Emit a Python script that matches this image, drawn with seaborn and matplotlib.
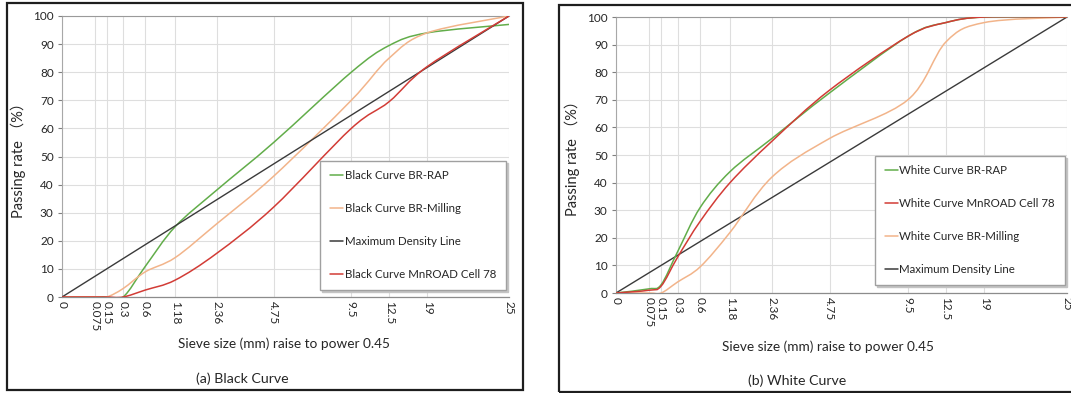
import numpy as np
import matplotlib
matplotlib.use("Agg")
import matplotlib.pyplot as plt
from matplotlib.path import Path
from matplotlib.patches import PathPatch, Rectangle
from matplotlib.lines import Line2D
import seaborn as sns

# Sieve labels and their abscissa (sieve size raised to power 0.45)
sieve_labels = ["0", "0.075", "0.15", "0.3", "0.6", "1.18", "2.36",
                "4.75", "9.5", "12.5", "19", "25"]
sieve_pow = [0, 0.311, 0.426, 0.582, 0.795, 1.077, 1.472,
             2.016, 2.755, 3.115, 3.478, 4.257]

# Passing rate (%) at each sieve - black curves
black_br_rap = [0, 0, 0, 0, 11, 25, 38, 55, 80, 89.5, 94, 97]
black_br_milling = [0, 0, 0, 3, 9, 14, 26, 43, 70, 85, 94, 100]
black_mnroad = [0, 0, 0, 0, 2.5, 6, 15.5, 32, 60, 69.5, 82, 100]

# Passing rate (%) at each sieve - white curves
white_br_rap = [0, 1.5, 3, 15, 31, 44, 56, 72.5, 93, 98, 100, 100]
white_mnroad = [0, 1, 2.5, 13, 26, 40, 55, 73.5, 93, 98, 100, 100]
white_br_milling = [0, 0, 0, 4, 9.5, 22, 42, 56, 70, 91, 98, 100]

# Maximum density line end points
mdl_x = [sieve_pow[0], sieve_pow[-1]]
mdl_pass = [0, 100]

GREEN = "#62ad4a"
ORANGE = "#f2b48a"
RED = "#d23c36"
DARK = "#3a3a3a"

sns.set_theme(style="white")
plt.rcParams["font.family"] = ["Lato", "Noto Sans CJK SC", "DejaVu Sans"]
plt.rcParams["axes.unicode_minus"] = False


def smooth_curve(ax, x, y, color, lw=1.1):
    """Smoothed gradation line (cubic Bezier segments through the sieve points)."""
    p = np.column_stack([np.asarray(x, dtype=float), np.asarray(y, dtype=float)])
    pe = np.vstack([p[0], p, p[-1]])
    verts = [p[0]]
    codes = [Path.MOVETO]
    for i in range(len(p) - 1):
        p0, p1, p2, p3 = pe[i], pe[i + 1], pe[i + 2], pe[i + 3]
        c1 = p1 + (p2 - p0) / 6.0
        c2 = p2 - (p3 - p1) / 6.0
        verts += [c1, c2, p2]
        codes += [Path.CURVE4] * 3
    ax.add_patch(PathPatch(Path(np.array(verts), codes), fill=False,
                           edgecolor=color, lw=lw, transform=ax.transData,
                           zorder=3, capstyle="round", joinstyle="round"))


def style_axes(ax, xlabel_pos):
    ax.set_xlim(sieve_pow[0], sieve_pow[-1])
    ax.set_ylim(0, 100)
    ax.set_xticks(sieve_pow)
    ax.set_xticklabels(sieve_labels, rotation=-90, fontsize=8.5)
    ax.set_yticks(range(0, 101, 10))
    ax.tick_params(axis="y", labelsize=8.5, length=3, width=0.8,
                   color="#808080", pad=3, left=True)
    ax.tick_params(axis="x", length=0, pad=3)
    ax.grid(True, color="#dedede", lw=0.8)
    ax.set_axisbelow(True)
    ax.spines["right"].set_visible(False)
    ax.spines["top"].set_color("#9a9a9a")
    ax.spines["top"].set_linewidth(0.8)
    ax.spines["left"].set_color("#a8a8a8")
    ax.spines["left"].set_linewidth(0.8)
    ax.spines["bottom"].set_color("#8c8c8c")
    ax.spines["bottom"].set_linewidth(0.9)
    ax.set_xlabel("Sieve size (mm) raise to power 0.45", fontsize=9.8)
    ax.xaxis.set_label_coords(*xlabel_pos)
    ax.set_ylabel("Passing rate （%）", fontsize=10.5, labelpad=5)


def add_legend(ax, entries, anchor):
    handles = [Line2D([], [], color=c, lw=1.1) for _, c in entries]
    labels = [n for n, _ in entries]
    leg = ax.legend(handles, labels, loc="lower right", bbox_to_anchor=anchor,
                    borderaxespad=0, fontsize=8.3, frameon=True, fancybox=False,
                    framealpha=1, edgecolor="#a0a0a0", labelspacing=1.9,
                    handlelength=1.15, handletextpad=0.12, borderpad=0.85,
                    shadow={"color": "#c4c4c4", "alpha": 1, "ox": 1.6, "oy": -1.6})
    leg.get_frame().set_linewidth(1.0)
    leg.set_zorder(5)


W, H = 1071, 393
fig = plt.figure(figsize=(W / 100, H / 100), dpi=100)

# Panel frames
fig.add_artist(Rectangle((7 / W, 1 - 390 / H), 516 / W, 387 / H, fill=False,
                         edgecolor="#1e1e1e", lw=1.6, transform=fig.transFigure))
fig.add_artist(Rectangle((559 / W, 1 - 392 / H), 530 / W, 387 / H, fill=False,
                         edgecolor="#1e1e1e", lw=1.6, transform=fig.transFigure))

ax1 = fig.add_axes([62 / W, 1 - 297 / H, 447 / W, 281 / H])
ax2 = fig.add_axes([616 / W, 1 - 293 / H, 451 / W, 276 / H])

style_axes(ax1, (0.497, -0.145))
style_axes(ax2, (0.471, -0.172))

# (a) Black curve
smooth_curve(ax1, sieve_pow, black_br_rap, GREEN)
smooth_curve(ax1, sieve_pow, black_br_milling, ORANGE)
sns.lineplot(x=mdl_x, y=mdl_pass, ax=ax1, color=DARK, lw=1.0, estimator=None, zorder=3)
smooth_curve(ax1, sieve_pow, black_mnroad, RED)
add_legend(ax1, [("Black Curve BR-RAP", GREEN),
                 ("Black Curve BR-Milling", ORANGE),
                 ("Maximum Density Line", DARK),
                 ("Black Curve MnROAD Cell 78", RED)], (0.993, 0.025))

# (b) White curve
sns.lineplot(x=mdl_x, y=mdl_pass, ax=ax2, color=DARK, lw=1.0, estimator=None, zorder=3)
smooth_curve(ax2, sieve_pow, white_br_milling, ORANGE)
smooth_curve(ax2, sieve_pow, white_br_rap, GREEN)
smooth_curve(ax2, sieve_pow, white_mnroad, RED)
add_legend(ax2, [("White Curve BR-RAP", GREEN),
                 ("White Curve MnROAD Cell 78", RED),
                 ("White Curve BR-Milling", ORANGE),
                 ("Maximum Density Line", DARK)], (0.995, 0.029))

for ax in (ax1, ax2):
    ax.set_xlim(sieve_pow[0], sieve_pow[-1])
    ax.set_ylim(0, 100)

fig.text(242 / W, 1 - 379 / H, "(a) Black Curve", ha="center", va="center", fontsize=10.2)
fig.text(797 / W, 1 - 381 / H, "(b) White Curve", ha="center", va="center", fontsize=10.2)

fig.savefig("out.png", dpi=100)
